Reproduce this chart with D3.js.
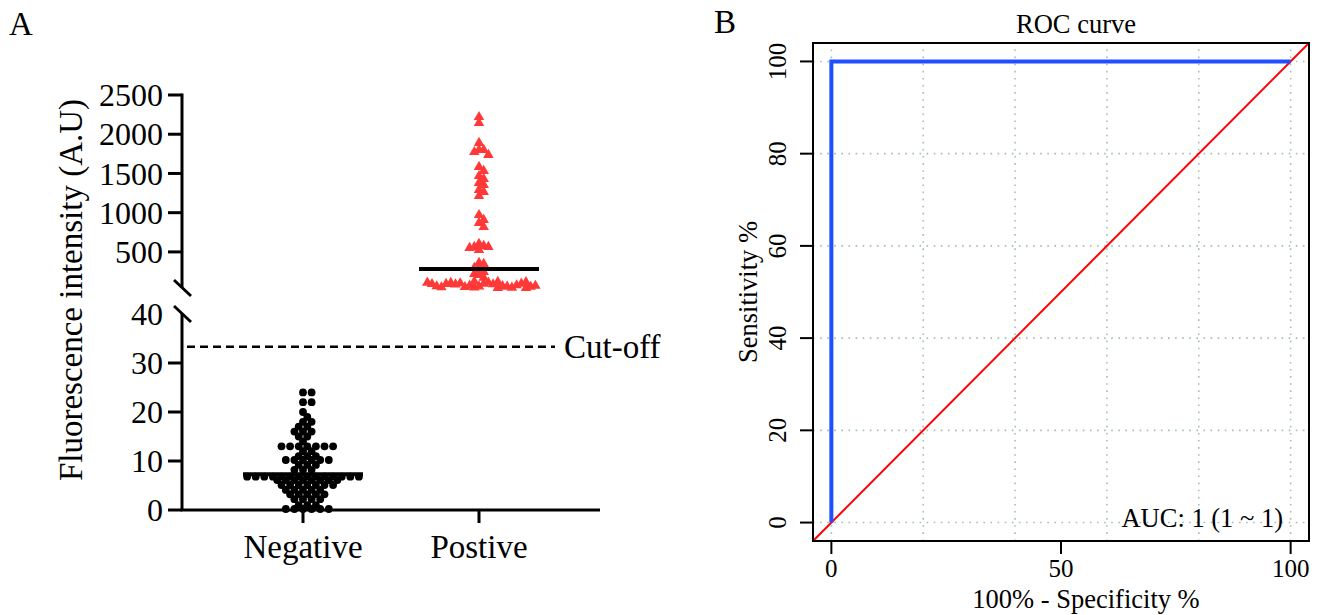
<!DOCTYPE html>
<html>
<head>
<meta charset="utf-8">
<script src="https://cdn.jsdelivr.net/npm/d3@7"></script>
<style>
  body { margin: 0; background: #fff; }
  text { font-family: "Liberation Serif", "Times New Roman", serif; fill: #000; }
</style>
</head>
<body>
<div class="chart"></div>
<script>
// ---- panel A data ----
var groups = ["Negative", "Postive"];

var negValues = [24, 24, 22, 22, 20, 19, 18, 18, 17, 17, 16, 16, 16, 15, 15, 14,
  13, 13, 13, 13, 13, 13, 13, 12, 12, 11, 11, 11,
  10.2, 10.2, 10.2, 10.2, 10.2, 10.2, 9.2, 9.2, 9.2, 8.2, 8.2, 8.2,
  6.8, 6.8, 6.8, 6.8, 6.8, 6.8, 6.8, 6.8, 6.8, 6.8, 6.8, 6.8, 6.8, 6.8,
  6.1, 6.1, 6.1, 6.1, 6.1, 6.1, 6.1, 6.1,
  5.1, 5.1, 5.1, 5.1, 5.1, 5.1, 5.1,
  4.1, 4.1, 4.1, 4.1, 4.1, 3.2, 3.2, 3.2, 3.2, 3.2,
  2.2, 2.2, 2.2, 2.2, 1, 1, 1, 0.2, 0.2, 0.2, 0.2, 0.2, 0.2];

var posValues = [2220, 2143, 1889, 1800, 1800, 1774, 1736, 1583, 1532, 1468, 1430,
  1379, 1354, 1290, 1265, 1213, 971, 908, 870, 818, 602, 577, 564, 564, 551, 526,
  360, 347, 296, 283, 245, 220, 207, 170,
  60, 95, 48, 110, 70, 88, 52, 118, 42, 100, 65, 86, 58, 105, 45, 92, 75, 122,
  50, 96, 62, 115, 40, 90, 55, 108, 68];

var negMedian = 7.3;
var posMedian = 283;
var cutOff = 33.3;

var lowTicks = [0, 10, 20, 30, 40];
var highTicks = [500, 1000, 1500, 2000, 2500];

// ---- panel B data ----
var rocX = [0, 0, 100];       // 100% - specificity
var rocY = [0, 100, 100];     // sensitivity
var rocTicksX = [0, 50, 100];
var rocTicksY = [0, 20, 40, 60, 80, 100];
var rocGrid = [0, 20, 40, 60, 80, 100];
var aucLabel = "AUC: 1 (1 ~ 1)";

var svg = d3.select(".chart").append("svg")
  .attr("width", 1325)
  .attr("height", 615);

svg.append("rect").attr("width", 1325).attr("height", 615).attr("fill", "#fff");

// ================= panel A =================
var xA = d3.scalePoint().domain(groups).range([182, 600]).padding(0.6875);
var yLow = d3.scaleLinear().domain([0, 40]).range([510, 314]);
var yHigh = d3.scaleLinear().domain([40, 2500]).range([288, 95]);

// grid swarm: columns every `step` px; points in the same row keep `sameGap` columns apart,
// points in a nearby row just can't share a column
function gridSwarm(values, yScale, cx, step, sameGap, nearDy) {
  var placed = [];
  values.forEach(function(v) {
    var y = yScale(v);
    for (var k = 0; k < 300; k++) {
      var cell = k === 0 ? 0 : (k % 2 ? (k + 1) / 2 : -k / 2);
      var busy = placed.some(function(p) {
        var dy = Math.abs(p.y - y), dc = Math.abs(p.cell - cell);
        if (dy < 1) return dc < sameGap;
        return dy < nearDy && dc === 0;
      });
      if (!busy) { placed.push({ cell: cell, x: cx + cell * step, y: y, v: v }); break; }
    }
  });
  return placed;
}

var gA = svg.append("g");

// axis lines
gA.append("line").attr("x1", 182).attr("x2", 182)
  .attr("y1", yLow(0)).attr("y2", yLow(40))
  .attr("stroke", "#000").attr("stroke-width", 3);
gA.append("line").attr("x1", 182).attr("x2", 182)
  .attr("y1", yHigh(40)).attr("y2", yHigh(2500) - 1.5)
  .attr("stroke", "#000").attr("stroke-width", 3);

// break marks
[yHigh(40), yLow(40)].forEach(function(yy) {
  gA.append("line").attr("x1", 174).attr("x2", 191)
    .attr("y1", yy - 8).attr("y2", yy + 8)
    .attr("stroke", "#000").attr("stroke-width", 3);
});

// ticks + labels
function yTicks(ticks, scale, skipTop) {
  ticks.forEach(function(t) {
    var yy = scale(t);
    if (!(skipTop && t === ticks[ticks.length - 1])) {
      gA.append("line").attr("x1", 168).attr("x2", 182)
        .attr("y1", yy).attr("y2", yy)
        .attr("stroke", "#000").attr("stroke-width", 3);
    }
    gA.append("text").attr("x", 163).attr("y", yy).attr("dy", "0.35em")
      .attr("text-anchor", "end").style("font-size", "32px").text(t);
  });
}
yTicks(lowTicks, yLow, true);
yTicks(highTicks, yHigh, false);

// x axis
gA.append("line").attr("x1", 180.5).attr("x2", 600)
  .attr("y1", 510).attr("y2", 510)
  .attr("stroke", "#000").attr("stroke-width", 3);
groups.forEach(function(g) {
  gA.append("line").attr("x1", xA(g)).attr("x2", xA(g))
    .attr("y1", 510).attr("y2", 523)
    .attr("stroke", "#000").attr("stroke-width", 3);
  gA.append("text").attr("x", xA(g)).attr("y", 558)
    .attr("text-anchor", "middle").style("font-size", "33px").text(g);
});

// y label
gA.append("text")
  .attr("transform", "translate(82,290) rotate(-90)")
  .attr("text-anchor", "middle").style("font-size", "33px")
  .text("Fluorescence intensity (A.U)");

// cut-off line
gA.append("line").attr("x1", 187).attr("x2", 555)
  .attr("y1", yLow(cutOff)).attr("y2", yLow(cutOff))
  .attr("stroke", "#000").attr("stroke-width", 2.5)
  .attr("stroke-dasharray", "8,5");
gA.append("text").attr("x", 564).attr("y", yLow(cutOff)).attr("dy", "0.35em")
  .style("font-size", "33px").text("Cut-off");

// negative dots
var negSorted = negValues.slice().sort((a, b) => a - b);
var negPts = gridSwarm(negSorted, yLow, xA("Negative"), 4.3, 2, 5.2);
gA.selectAll("circle.neg").data(negPts).enter().append("circle")
  .attr("class", "neg")
  .attr("cx", d => d.x).attr("cy", d => d.y)
  .attr("r", 3.9).attr("fill", "#000");

// positive triangles
var posPts = gridSwarm(posValues, yHigh, xA("Postive"), 4.7, 1, 5.5);
gA.selectAll("path.pos").data(posPts).enter().append("path")
  .attr("class", "pos")
  .attr("transform", d => `translate(${d.x},${d.y})`)
  .attr("d", d3.symbol(d3.symbolTriangle, 48))
  .attr("fill", "#ff3838");

// median lines
gA.append("line").attr("x1", xA("Negative") - 60).attr("x2", xA("Negative") + 60)
  .attr("y1", yLow(negMedian)).attr("y2", yLow(negMedian))
  .attr("stroke", "#000").attr("stroke-width", 4);
gA.append("line").attr("x1", xA("Postive") - 60).attr("x2", xA("Postive") + 60)
  .attr("y1", yHigh(posMedian)).attr("y2", yHigh(posMedian))
  .attr("stroke", "#000").attr("stroke-width", 4);

svg.append("text").attr("x", 9).attr("y", 35).style("font-size", "33px").text("A");

// ================= panel B =================
var xB = d3.scaleLinear().domain([-4, 104]).range([813, 1309]);
var yB = d3.scaleLinear().domain([-4, 104]).range([541, 43]);
var gB = svg.append("g");

// grid
rocGrid.forEach(function(v) {
  gB.append("line").attr("x1", xB(-4)).attr("x2", xB(104))
    .attr("y1", yB(v)).attr("y2", yB(v))
    .attr("stroke", "#a7bcbc").attr("stroke-width", 1.6).attr("stroke-dasharray", "1.6,5.5");
  gB.append("line").attr("x1", xB(v)).attr("x2", xB(v))
    .attr("y1", yB(-4)).attr("y2", yB(104))
    .attr("stroke", "#a7bcbc").attr("stroke-width", 1.6).attr("stroke-dasharray", "1.6,5.5");
});

// diagonal reference
gB.append("line").attr("x1", xB(-4)).attr("y1", yB(-4))
  .attr("x2", xB(104)).attr("y2", yB(104))
  .attr("stroke", "#ff0000").attr("stroke-width", 2);

// ROC curve
var rocLine = d3.line().x((d, i) => xB(rocX[i])).y((d, i) => yB(rocY[i]));
gB.append("path").datum(rocX).attr("d", rocLine)
  .attr("fill", "none").attr("stroke", "#1f4fff").attr("stroke-width", 4);

// box
gB.append("rect").attr("x", xB(-4)).attr("y", yB(104))
  .attr("width", xB(104) - xB(-4)).attr("height", yB(-4) - yB(104))
  .attr("fill", "none").attr("stroke", "#000").attr("stroke-width", 2);

// axes ticks
rocTicksY.forEach(function(t) {
  gB.append("line").attr("x1", 800).attr("x2", 813)
    .attr("y1", yB(t)).attr("y2", yB(t))
    .attr("stroke", "#000").attr("stroke-width", 2);
  gB.append("text")
    .attr("transform", `translate(786,${yB(t)}) rotate(-90)`)
    .attr("text-anchor", "middle").style("font-size", "25px").text(t);
});
rocTicksX.forEach(function(t) {
  gB.append("line").attr("x1", xB(t)).attr("x2", xB(t))
    .attr("y1", 541).attr("y2", 554)
    .attr("stroke", "#000").attr("stroke-width", 2);
  gB.append("text").attr("x", xB(t)).attr("y", 577)
    .attr("text-anchor", "middle").style("font-size", "25px").text(t);
});

gB.append("text").attr("x", 1086).attr("y", 608)
  .attr("text-anchor", "middle").style("font-size", "26.5px").text("100% - Specificity %");
gB.append("text")
  .attr("transform", "translate(757,292) rotate(-90)")
  .attr("text-anchor", "middle").style("font-size", "26.5px").text("Sensitivity %");
gB.append("text").attr("x", 1076).attr("y", 33)
  .attr("text-anchor", "middle").style("font-size", "26.5px").text("ROC curve");
gB.append("text").attr("x", 1283).attr("y", 527)
  .attr("text-anchor", "end").style("font-size", "26.5px").text(aucLabel);

svg.append("text").attr("x", 714).attr("y", 33).style("font-size", "33px").text("B");
</script>
</body>
</html>
